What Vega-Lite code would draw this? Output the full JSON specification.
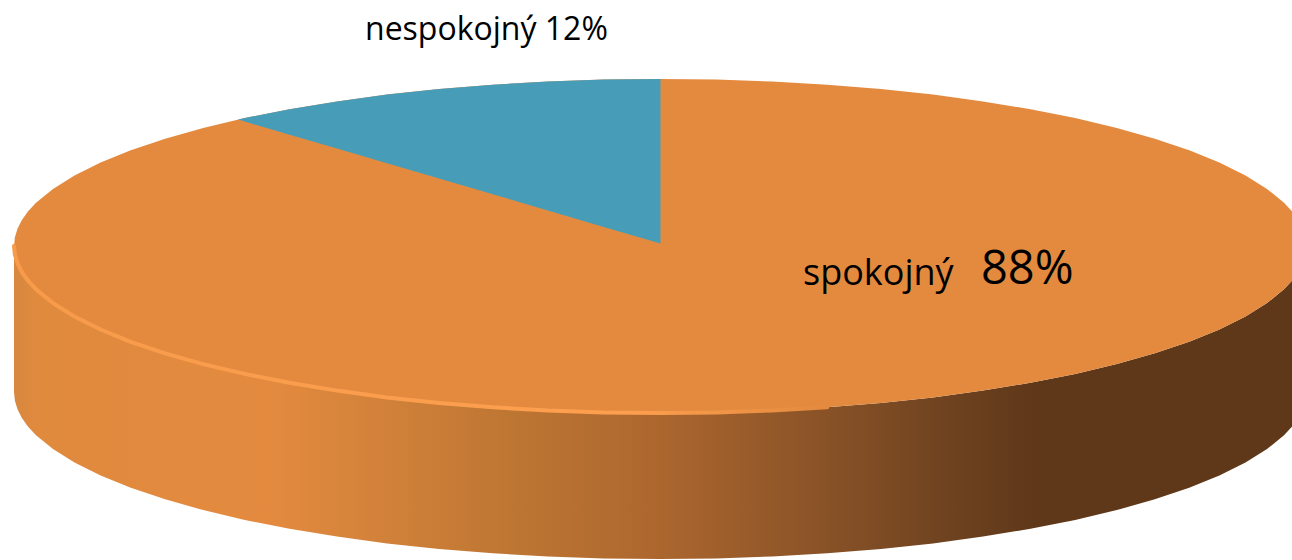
{"$schema":"https://vega.github.io/schema/vega-lite/v6.json","width":1292,"height":560,"padding":0,"autosize":{"type":"fit","contains":"padding"},"background":"white","config":{"view":{"stroke":null}},
"datasets":{"disc":[
{"x":14,"top":246,"front":246,"base":392},
{"x":14.9,"top":237.3,"front":254.7,"base":400.7},
{"x":17.6,"top":228.5,"front":263.5,"base":409.5},
{"x":21.9,"top":219.9,"front":272.1,"base":418.1},
{"x":28.1,"top":211.3,"front":280.7,"base":426.7},
{"x":36,"top":202.8,"front":289.2,"base":435.2},
{"x":53,"top":188.9,"front":303.1,"base":449.1},
{"x":74.5,"top":175.4,"front":316.6,"base":462.6},
{"x":100.6,"top":162.5,"front":329.5,"base":475.5},
{"x":130.8,"top":150.2,"front":341.8,"base":487.8},
{"x":165.2,"top":138.7,"front":353.3,"base":499.3},
{"x":203.2,"top":127.9,"front":364.1,"base":510.1},
{"x":244.8,"top":118.1,"front":373.9,"base":519.9},
{"x":289.5,"top":109.2,"front":382.8,"base":528.8},
{"x":337,"top":101.4,"front":390.6,"base":536.6},
{"x":387,"top":94.6,"front":397.4,"base":543.4},
{"x":439.1,"top":89.1,"front":402.9,"base":548.9},
{"x":492.8,"top":84.7,"front":407.3,"base":553.3},
{"x":547.8,"top":81.5,"front":410.5,"base":556.5},
{"x":603.7,"top":79.6,"front":412.4,"base":558.4},
{"x":660,"top":79,"front":413,"base":559},
{"x":716.3,"top":79.6,"front":412.4,"base":558.4},
{"x":772.2,"top":81.5,"front":410.5,"base":556.5},
{"x":827.2,"top":84.7,"front":407.3,"base":553.3},
{"x":880.9,"top":89.1,"front":402.9,"base":548.9},
{"x":933,"top":94.6,"front":397.4,"base":543.4},
{"x":983,"top":101.4,"front":390.6,"base":536.6},
{"x":1030.5,"top":109.2,"front":382.8,"base":528.8},
{"x":1075.2,"top":118.1,"front":373.9,"base":519.9},
{"x":1116.8,"top":127.9,"front":364.1,"base":510.1},
{"x":1154.8,"top":138.7,"front":353.3,"base":499.3},
{"x":1189.2,"top":150.2,"front":341.8,"base":487.8},
{"x":1219.4,"top":162.5,"front":329.5,"base":475.5},
{"x":1245.5,"top":175.4,"front":316.6,"base":462.6},
{"x":1267,"top":188.9,"front":303.1,"base":449.1},
{"x":1284,"top":202.8,"front":289.2,"base":435.2},
{"x":1291.9,"top":211.3,"front":280.7,"base":426.7},
{"x":1298.1,"top":219.9,"front":272.1,"base":418.1},
{"x":1302.4,"top":228.5,"front":263.5,"base":409.5},
{"x":1305.1,"top":237.3,"front":254.7,"base":400.7},
{"x":1306,"top":246,"front":246,"base":392}
],
"wedge":[
{"x":238,"edge":119.6,"cut":119.6},
{"x":244.8,"edge":118.1,"cut":121.6},
{"x":289.5,"edge":109.2,"cut":134.7},
{"x":337,"edge":101.4,"cut":148.6},
{"x":387,"edge":94.6,"cut":163.3},
{"x":439.1,"edge":89.1,"cut":178.6},
{"x":492.8,"edge":84.7,"cut":194.3},
{"x":547.8,"edge":81.5,"cut":210.5},
{"x":603.7,"edge":79.6,"cut":226.9},
{"x":660.5,"edge":79,"cut":243.5}
],
"labelTop":[{"x":365,"y":40,"text":"nespokojný 12%"}],
"labelMain":[{"x":803,"y":285,"text":"spokojný"}],
"labelLarge":[{"x":981,"y":284,"text":"88%"}]},
"encoding":{"x":{"field":"x","type":"quantitative","axis":null,"scale":{"domain":[0,1292],"nice":false,"zero":false}}},
"layer":[
{"data":{"name":"disc"},"mark":{"type":"area","clip":true,"color":{"gradient":"linear","x1":0,"y1":0,"x2":1,"y2":0,"stops":[{"offset":0,"color":"#d98840"},{"offset":0.02,"color":"#e08a3e"},{"offset":0.2,"color":"#e38a3f"},{"offset":0.27,"color":"#d5833b"},{"offset":0.376,"color":"#bf7733"},{"offset":0.49,"color":"#ae682f"},{"offset":0.61,"color":"#8e5528"},{"offset":0.72,"color":"#6f4320"},{"offset":0.79,"color":"#5f3819"},{"offset":1,"color":"#5f3819"}]}},
"encoding":{"y":{"field":"front","type":"quantitative","axis":null,"scale":{"domain":[560,0],"nice":false,"zero":false}},"y2":{"field":"base"}}},
{"data":{"name":"disc"},"mark":{"type":"area","clip":true,"color":"#e38a3f"},
"encoding":{"y":{"field":"top","type":"quantitative","axis":null,"scale":{"domain":[560,0],"nice":false,"zero":false}},"y2":{"field":"front"}}},
{"data":{"name":"disc"},"transform":[{"filter":"datum.x <= 880"}],"mark":{"type":"line","clip":true,"strokeWidth":4,"strokeCap":"round","color":{"gradient":"linear","x1":0,"y1":0,"x2":1,"y2":0,"stops":[{"offset":0,"color":"#f79b4b"},{"offset":0.75,"color":"#fd9f4e"},{"offset":1,"color":"#e38a3f"}]}},
"encoding":{"y":{"field":"front","type":"quantitative","axis":null,"scale":{"domain":[560,0],"nice":false,"zero":false}}}},
{"data":{"name":"wedge"},"mark":{"type":"area","color":"#479db8"},
"encoding":{"y":{"field":"edge","type":"quantitative","axis":null,"scale":{"domain":[560,0],"nice":false,"zero":false}},"y2":{"field":"cut"}}},
{"data":{"name":"labelTop"},"mark":{"type":"text","align":"left","baseline":"alphabetic","font":"Open Sans","fontSize":32,"color":"#000000"},
"encoding":{"y":{"field":"y","type":"quantitative","axis":null,"scale":{"domain":[560,0],"nice":false,"zero":false}},"text":{"field":"text"}}},
{"data":{"name":"labelMain"},"mark":{"type":"text","align":"left","baseline":"alphabetic","font":"Open Sans","fontSize":36,"color":"#000000"},
"encoding":{"y":{"field":"y","type":"quantitative","axis":null,"scale":{"domain":[560,0],"nice":false,"zero":false}},"text":{"field":"text"}}},
{"data":{"name":"labelLarge"},"mark":{"type":"text","align":"left","baseline":"alphabetic","font":"Open Sans","fontSize":47,"color":"#000000"},
"encoding":{"y":{"field":"y","type":"quantitative","axis":null,"scale":{"domain":[560,0],"nice":false,"zero":false}},"text":{"field":"text"}}}
]}
